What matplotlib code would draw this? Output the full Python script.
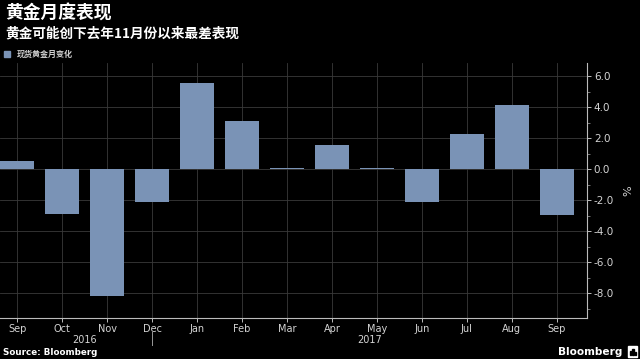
import numpy as np
import matplotlib
matplotlib.use('Agg')
import matplotlib.pyplot as plt
import matplotlib.transforms as mtransforms
from matplotlib.patches import Rectangle
from matplotlib.ticker import MultipleLocator

plt.rcParams['font.family'] = ['Noto Sans CJK SC', 'DejaVu Sans']

# monthly change of spot gold, %
months = ['Sep', 'Oct', 'Nov', 'Dec', 'Jan', 'Feb', 'Mar',
          'Apr', 'May', 'Jun', 'Jul', 'Aug', 'Sep']
changes = [0.55, -2.9, -8.15, -2.1, 5.55, 3.1, 0.07,
           1.55, 0.05, -2.1, 2.25, 4.15, -2.95]
years = ['2016', '2017']
yticks = [-8.0, -6.0, -4.0, -2.0, 0.0, 2.0, 4.0, 6.0]

bg = '#000000'
bar_color = '#7a93b6'
grid_color = '#3a3a3a'
text_gray = '#d4d4d4'

fig = plt.figure(figsize=(6.4, 3.59), dpi=100, facecolor=bg)
ax = fig.add_axes([0.0, 0.114, 0.917, 0.711], facecolor=bg)

x = np.arange(len(months))
ax.bar(x, changes, width=0.76, color=bar_color, zorder=3)

ax.set_xlim(-0.38, 12.67)
ax.set_ylim(-9.6, 6.85)

# axes styling
for side in ['left', 'top']:
    ax.spines[side].set_visible(False)
for side in ['right', 'bottom']:
    ax.spines[side].set_color('#bbbbbb')
    ax.spines[side].set_linewidth(0.8)

ax.yaxis.tick_right()
ax.yaxis.set_label_position('right')
ax.set_yticks(yticks)
ax.set_yticklabels(['%.1f' % v for v in yticks], family='DejaVu Sans')
ax.yaxis.set_minor_locator(MultipleLocator(1))
ax.tick_params(axis='y', which='major', colors='#bbbbbb', labelcolor=text_gray,
               labelsize=7.5, length=3, width=0.7, pad=2)
ax.tick_params(axis='y', which='minor', colors='#888888', length=2, width=0.6)

ax.set_xticks(x)
ax.set_xticklabels(months, family='DejaVu Sans')
ax.tick_params(axis='x', colors='#bbbbbb', labelcolor=text_gray,
               labelsize=7, length=3, width=0.7, pad=1.5)

ax.grid(True, color=grid_color, linewidth=0.6, zorder=0)
ax.set_axisbelow(True)

ax.set_ylabel('%', color=text_gray, fontsize=8, family='DejaVu Sans',
              labelpad=7)

# year labels and separator
trans = mtransforms.blended_transform_factory(ax.transData, ax.transAxes)
ax.text(1.5, -0.085, years[0], transform=trans, ha='center', va='center',
        color=text_gray, fontsize=7, family='DejaVu Sans')
ax.text(7.85, -0.085, years[1], transform=trans, ha='center', va='center',
        color=text_gray, fontsize=7, family='DejaVu Sans')
ax.plot([3, 3], [-0.055, -0.105], transform=trans, color='#999999',
        linewidth=0.7, clip_on=False)

# titles
fig.text(0.008, 0.962, '黄金月度表现', color='white', fontsize=12.8,
         fontweight='bold', va='center', ha='left')
fig.text(0.008, 0.908, '黄金可能创下去年11月份以来最差表现', color='white',
         fontsize=9.8, fontweight='bold', va='center', ha='left')

# legend
fig.patches.append(Rectangle((0.007, 0.842), 0.009, 0.016,
                             transform=fig.transFigure, color=bar_color))
fig.text(0.027, 0.85, '现货黄金月变化', color=text_gray, fontsize=5.8,
         fontweight='bold', va='center', ha='left')

# footer
fig.text(0.005, 0.017, 'Source: Bloomberg', color='white', fontsize=6.3,
         fontweight='bold', family='DejaVu Sans', va='center', ha='left')
fig.text(0.972, 0.019, 'Bloomberg', color='white', fontsize=7.6,
         fontweight='bold', family='DejaVu Sans', va='center', ha='right')
# small logo mark
fig.patches.append(Rectangle((0.981, 0.006), 0.014, 0.03,
                             transform=fig.transFigure, color='white'))
for bx, bh in [(0.9845, 0.012), (0.988, 0.018), (0.9915, 0.009)]:
    fig.patches.append(Rectangle((bx, 0.011), 0.002, bh,
                                 transform=fig.transFigure, color=bg))

fig.savefig('out.png', dpi=100, facecolor=bg)
